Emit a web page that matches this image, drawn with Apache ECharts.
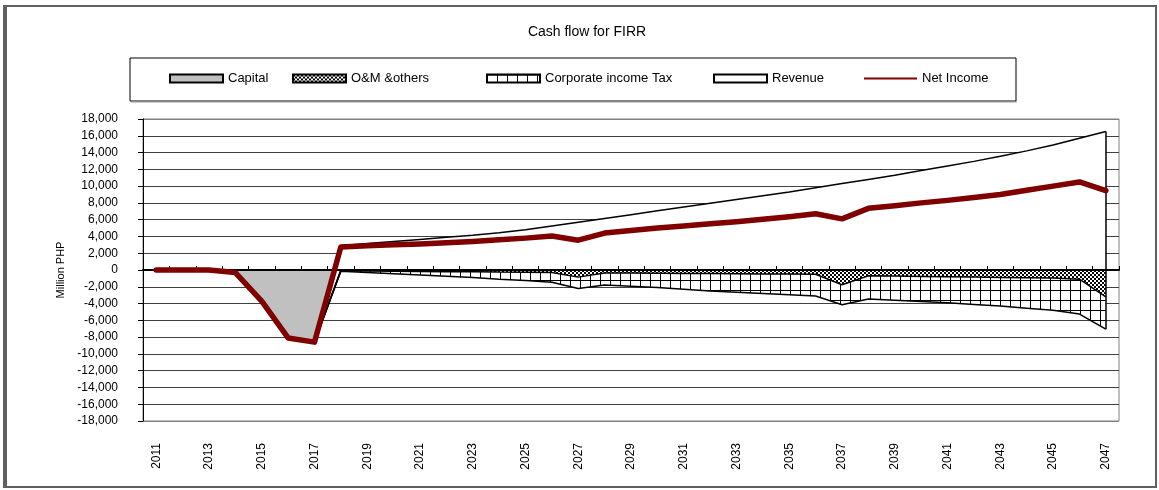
<!DOCTYPE html>
<html>
<head>
<meta charset="utf-8">
<title>Cash flow for FIRR</title>
<script src="https://cdn.jsdelivr.net/npm/echarts@6/dist/echarts.min.js"></script>
<style>
  html, body { margin: 0; padding: 0; background: #fff; }
  #chart { width: 1159px; height: 490px; }
</style>
</head>
<body>
<div id="chart"></div>
<script>
var years = ['2011', '2012', '2013', '2014', '2015', '2016', '2017', '2018', '2019', '2020',
  '2021', '2022', '2023', '2024', '2025', '2026', '2027', '2028', '2029', '2030',
  '2031', '2032', '2033', '2034', '2035', '2036', '2037', '2038', '2039', '2040',
  '2041', '2042', '2043', '2044', '2045', '2046', '2047']

// million PHP
var capital = [0, 0, 0, -300, -3700, -8100, -8600, 0, 0, 0,
  0, 0, 0, 0, 0, 0, 0, 0, 0, 0,
  0, 0, 0, 0, 0, 0, 0, 0, 0, 0,
  0, 0, 0, 0, 0, 0, 0]
var omOthers = [0, 0, 0, 0, 0, 0, 0, -100, -120, -150,
  -170, -200, -220, -250, -270, -300, -850, -350, -370, -390,
  -410, -430, -450, -470, -490, -510, -1750, -700, -730, -760,
  -800, -840, -880, -920, -960, -1100, -3200]
var incomeTax = [0, 0, 0, 0, 0, 0, 0, -50, -180, -300,
  -430, -550, -680, -850, -980, -1150, -1350, -1450, -1580, -1710,
  -1890, -2070, -2200, -2330, -2460, -2590, -2400, -2750, -2870, -2990,
  -3100, -3260, -3420, -3630, -3840, -4150, -3850]
var revenue = [0, 0, 0, 0, 0, 0, 0, 2900, 3150, 3400,
  3650, 3900, 4150, 4450, 4800, 5250, 5700, 6150, 6600, 7050,
  7500, 7950, 8400, 8850, 9300, 9800, 10300, 10800, 11300, 11850,
  12400, 12950, 13550, 14200, 14900, 15700, 16500]
var netIncome = [0, 0, 0, -300, -3700, -8100, -8600, 2750, 2900, 3000,
  3100, 3250, 3400, 3600, 3800, 4050, 3550, 4400, 4700, 5000,
  5250, 5500, 5750, 6050, 6350, 6700, 6100, 7350, 7650, 8000,
  8300, 8650, 9000, 9500, 10000, 10500, 9450]

var FONT = 'Liberation Sans, Arial, sans-serif'

// fill patterns like the excel ones
function makePattern(kind) {
  var c = document.createElement('canvas')
  var ctx = c.getContext('2d')
  if (kind === 'checker') {
    c.width = 4
    c.height = 4
    ctx.fillStyle = '#fff'
    ctx.fillRect(0, 0, 4, 4)
    ctx.fillStyle = '#000'
    ctx.fillRect(0, 0, 2, 2)
    ctx.fillRect(2, 2, 2, 2)
  } else {
    c.width = 10
    c.height = 10
    ctx.fillStyle = '#fff'
    ctx.fillRect(0, 0, 10, 10)
    ctx.fillStyle = '#000'
    ctx.fillRect(0, 0, 1, 10)
    ctx.fillRect(0, 0, 10, 1)
  }
  return { image: c, repeat: 'repeat' }
}
var checker = makePattern('checker')
var hatch = makePattern('grid')

var splitColors = ['#808080']
for (var i = 0; i < 17; i++) splitColors.push('#404040')

function mkLegend(name, left, itemStyle, h) {
  return {
    left: left,
    top: 72,
    padding: 0,
    itemWidth: 53,
    itemHeight: h || 8,
    selectedMode: false,
    textStyle: { fontSize: 13, color: '#000', fontFamily: FONT },
    data: [{ name: name, icon: 'rect', itemStyle: itemStyle }]
  }
}

var last = years.length - 1

var chart = echarts.init(document.getElementById('chart'))
chart.setOption({
  animation: false,
  backgroundColor: '#fff',
  textStyle: { fontFamily: FONT },
  graphic: [
    { type: 'rect', shape: { x: 4, y: 6, width: 1152, height: 481 }, style: { fill: 'none', stroke: '#606060', lineWidth: 2 }, z: -1 },
    { type: 'line', shape: { x1: 5, y1: 6, x2: 5, y2: 487 }, style: { stroke: '#606060', lineWidth: 4 }, z: -1 },
    { type: 'rect', shape: { x: 130, y: 58, width: 886, height: 43 }, style: { fill: 'none', stroke: '#000', lineWidth: 1 }, z: -1 },
    { type: 'line', shape: { x1: 131, y1: 102, x2: 1017, y2: 102 }, style: { stroke: '#999', lineWidth: 1 }, z: -1 },
    {
      type: 'text', x: 587, y: 25,
      style: { text: 'Cash flow for FIRR', fontSize: 14, fill: '#000', fontFamily: FONT, textAlign: 'center' }
    }
  ],
  legend: [
    mkLegend('Capital', 169, { color: '#c0c0c0', borderColor: '#000', borderWidth: 2 }),
    mkLegend('O&M &others', 292, { color: checker, borderColor: '#000', borderWidth: 2 }),
    mkLegend('Corporate income Tax', 486, { color: hatch, borderColor: '#000', borderWidth: 2 }),
    mkLegend('Revenue', 713, { color: '#fff', borderColor: '#000', borderWidth: 2 }),
    mkLegend('Net Income', 864, { color: '#800000', borderWidth: 0 }, 2)
  ],
  grid: {
    left: 143,
    right: 40,
    top: 119,
    bottom: 69,
    show: true,
    borderColor: '#808080',
    borderWidth: 1
  },
  xAxis: [{
    type: 'category',
    data: years,
    boundaryGap: true,
    z: 10,
    axisLine: { onZero: true, lineStyle: { color: '#000', width: 2 } },
    axisTick: { show: true, inside: true, length: 4, interval: 0, lineStyle: { color: '#000' } },
    axisLabel: { show: false },
    splitLine: { show: false }
  }, {
    type: 'category',
    data: years,
    boundaryGap: true,
    position: 'bottom',
    axisLine: { show: false, onZero: false },
    axisTick: { show: false },
    axisLabel: { rotate: 90, interval: 1, margin: 22, fontSize: 12, color: '#000', fontFamily: FONT },
    splitLine: { show: false }
  }],
  yAxis: {
    type: 'value',
    min: -18000,
    max: 18000,
    interval: 2000,
    name: 'Million PHP',
    nameLocation: 'middle',
    nameGap: 56,
    nameRotate: 90,
    nameTextStyle: { fontSize: 11, color: '#000', fontFamily: FONT },
    axisLine: { show: true, lineStyle: { color: '#000', width: 1 } },
    axisTick: { show: true, length: 5, lineStyle: { color: '#000' } },
    axisLabel: {
      margin: 25,
      fontSize: 12,
      color: '#000',
      fontFamily: FONT,
      formatter: function (v) { return v.toLocaleString('en-US') }
    },
    splitLine: { show: true, lineStyle: { color: splitColors, width: 1 } }
  },
  series: [{
    name: 'Capital',
    type: 'line',
    stack: 'cf',
    data: capital,
    symbol: 'none',
    z: 2,
    itemStyle: { color: '#c0c0c0' },
    lineStyle: { color: '#000', width: 1.5 },
    areaStyle: { color: '#c0c0c0', opacity: 1 }
  }, {
    name: 'O&M &others',
    type: 'line',
    stack: 'cf',
    data: omOthers,
    symbol: 'none',
    z: 2,
    itemStyle: { color: '#000' },
    lineStyle: { color: '#000', width: 1.5 },
    areaStyle: { color: checker, opacity: 1 }
  }, {
    name: 'Corporate income Tax',
    type: 'line',
    stack: 'cf',
    data: incomeTax,
    symbol: 'none',
    z: 2,
    itemStyle: { color: '#000' },
    lineStyle: { color: '#000', width: 1.5 },
    areaStyle: { color: hatch, opacity: 1 }
  }, {
    name: 'Revenue',
    type: 'line',
    stack: 'cf',
    data: revenue,
    symbol: 'none',
    z: 2,
    itemStyle: { color: '#fff' },
    lineStyle: { color: '#000', width: 1.5 },
    areaStyle: { color: '#fff', opacity: 1 },
    markLine: {
      silent: true,
      symbol: 'none',
      label: { show: false },
      lineStyle: { color: '#000', width: 1.5, type: 'solid' },
      data: [[
        { coord: [years[last], revenue[last]] },
        { coord: [years[last], omOthers[last] + incomeTax[last]] }
      ]]
    }
  }, {
    name: 'Net Income',
    type: 'line',
    data: netIncome,
    symbol: 'none',
    z: 11,
    itemStyle: { color: '#800000' },
    lineStyle: { color: '#800000', width: 5.5, cap: 'round', join: 'round' }
  }]
})
</script>
</body>
</html>
